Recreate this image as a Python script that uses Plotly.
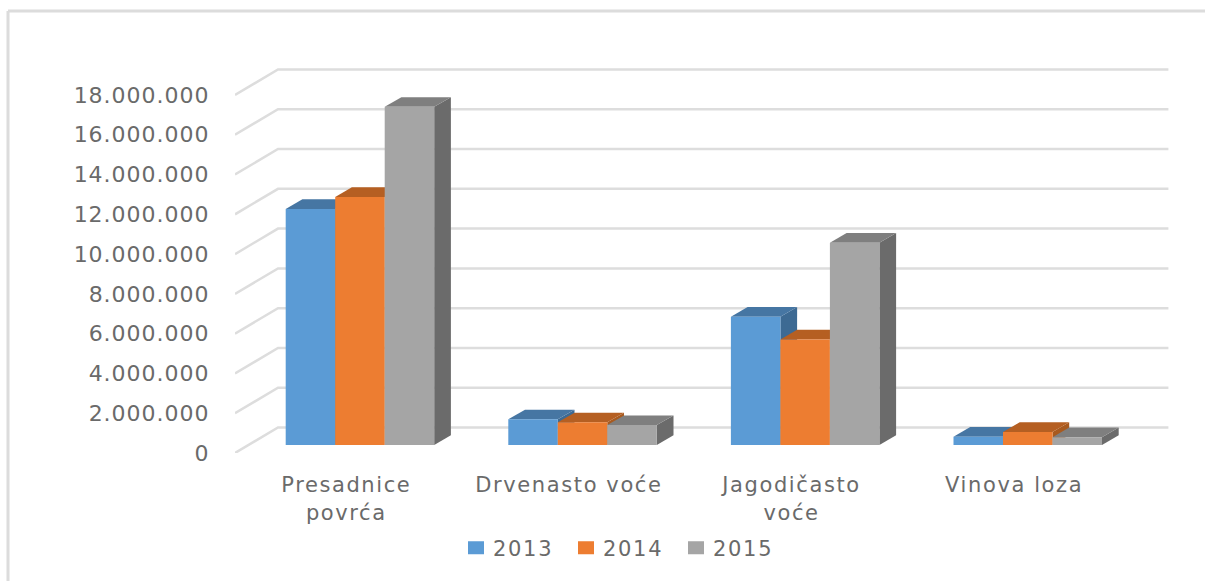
import plotly.graph_objects as go

categories = ["Presadnice<br>povrća", "Drvenasto voće", "Jagodičasto<br>voće", "Vinova loza"]
years = ["2013", "2014", "2015"]
values_2013 = [11870000, 1290000, 6450000, 420000]
values_2014 = [12470000, 1140000, 5310000, 650000]
values_2015 = [17000000, 1000000, 10170000, 390000]
y_ticks = [0, 2000000, 4000000, 6000000, 8000000, 10000000, 12000000, 14000000, 16000000, 18000000]
y_labels = ["0", "2.000.000", "4.000.000", "6.000.000", "8.000.000", "10.000.000",
            "12.000.000", "14.000.000", "16.000.000", "18.000.000"]

W, H = 1205, 581
L, B = 235, 128                     # plot area margins (px)
PX_CAT = 222.6                      # px per category
PX_VAL = 19.89 / 1e6                # px per unit of value
px_x = lambda p: p / PX_CAT
px_y = lambda p: p / PX_VAL
x_range = [0, (W - L) / PX_CAT]
y_range = [0, (H - B) / PX_VAL]

series = [
    ("2013", values_2013, "#5b9bd5", "#4676a3", "#3d6a93"),
    ("2014", values_2014, "#ed7d31", "#b55f22", "#a85a1f"),
    ("2015", values_2015, "#a5a5a5", "#7f7f7f", "#6b6b6b"),
]
BAR_W = px_x(49.5)
GROUP_START = px_x(50.7)
FLOOR = px_y(8)
DX, DY = px_x(16.7), px_y(9.7)
WALL_DX, WALL_DY = px_x(43), px_y(25.5)
GRID = "#dddddd"
TXT = "#6a6a6a"
FONT = "DejaVu Sans"

fig = go.Figure()

# back wall and side wall gridlines
for t in y_ticks:
    fig.add_trace(go.Scatter(
        x=[0, WALL_DX, len(categories) + WALL_DX],
        y=[t, t + WALL_DY, t + WALL_DY],
        mode="lines", line=dict(color=GRID, width=2.5),
        showlegend=False, hoverinfo="skip"))

# tops and sides of the columns
for s, (name, vals, front, top, side) in enumerate(series):
    for i, v in enumerate(vals):
        x0 = i + GROUP_START + s * BAR_W
        x1 = x0 + BAR_W
        y0 = FLOOR
        y1 = FLOOR + v
        fig.add_trace(go.Scatter(
            x=[x1, x1 + DX, x1 + DX, x1, x1],
            y=[y0, y0 + DY, y1 + DY, y1, y0],
            mode="lines", fill="toself", fillcolor=side, line=dict(width=0),
            showlegend=False, hoverinfo="skip"))
        fig.add_trace(go.Scatter(
            x=[x0, x0 + DX, x1 + DX, x1, x0],
            y=[y1, y1 + DY, y1 + DY, y1, y1],
            mode="lines", fill="toself", fillcolor=top, line=dict(width=0),
            showlegend=False, hoverinfo="skip"))

# front faces of the columns
for s, (name, vals, front, top, side) in enumerate(series):
    fig.add_trace(go.Bar(
        x=[i + GROUP_START + s * BAR_W + BAR_W / 2 for i in range(len(vals))],
        y=vals, base=FLOOR, width=BAR_W, name=name,
        marker=dict(color=front, line=dict(width=0)),
        xaxis="x2", yaxis="y2"))

px_paper_x = lambda p: (p - L) / (W - L)
px_paper_y = lambda p: (H - B - p) / (H - B)

fig.update_layout(
    width=W, height=H,
    margin=dict(l=L, r=0, t=0, b=B, pad=0),
    paper_bgcolor="white", plot_bgcolor="rgba(0,0,0,0)",
    barmode="overlay",
    font=dict(family=FONT, color=TXT, size=21),
    xaxis=dict(range=x_range, tickmode="array",
               tickvals=[i + 0.5 for i in range(len(categories))],
               ticktext=categories, showgrid=False, zeroline=False, showline=False,
               ticks="outside", ticklen=13, tickcolor="rgba(0,0,0,0)",
               tickfont=dict(size=21, color=TXT, family=FONT)),
    yaxis=dict(range=y_range, tickmode="array", tickvals=y_ticks, ticktext=y_labels,
               showgrid=False, zeroline=False, showline=False,
               ticks="outside", ticklen=20, tickcolor="rgba(0,0,0,0)",
               tickfont=dict(size=22, color=TXT, family=FONT)),
    xaxis2=dict(range=x_range, overlaying="x", visible=False),
    yaxis2=dict(range=y_range, overlaying="y", visible=False),
    legend=dict(orientation="h", x=px_paper_x(453), xanchor="left",
                y=px_paper_y(548), yanchor="middle",
                entrywidth=65, entrywidthmode="pixels",
                font=dict(size=21, color=TXT, family=FONT),
                bgcolor="rgba(0,0,0,0)", traceorder="normal"),
    shapes=[
        dict(type="line", xref="paper", yref="paper",
             x0=px_paper_x(8), x1=px_paper_x(W), y0=px_paper_y(11), y1=px_paper_y(11),
             line=dict(color="#dcdcdc", width=3), layer="below"),
        dict(type="line", xref="paper", yref="paper",
             x0=px_paper_x(8), x1=px_paper_x(8), y0=px_paper_y(11), y1=px_paper_y(H),
             line=dict(color="#dcdcdc", width=3), layer="below"),
    ],
)

css = (
    ".ytick text{letter-spacing:1px;}"
    ".xtick text{letter-spacing:1.6px;}"
    ".legendtext{letter-spacing:1.7px;}"
    ".legendpoints path{d:path('M11,6.5H-5V-6.5H11Z') !important;}"
)
post = (
    "document.body.style.margin='0';"
    "var st=document.createElement('style');st.textContent=\"" + css + "\";"
    "document.head.appendChild(st);"
)
fig.write_html("out.html", post_script=post, config={"displayModeBar": False})
